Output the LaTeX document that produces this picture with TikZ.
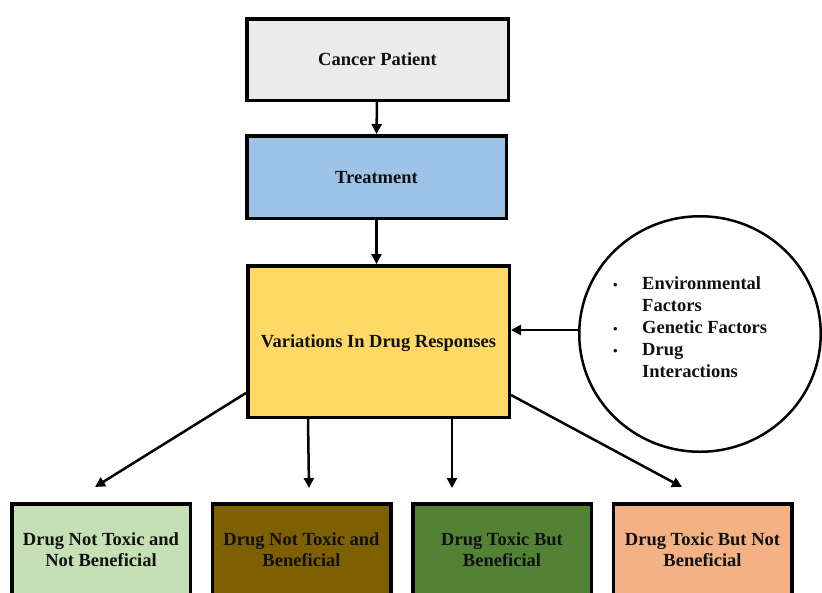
\documentclass[tikz,border=0pt]{standalone}
\usepackage{fontspec}
\setmainfont{Liberation Serif}
\usetikzlibrary{arrows.meta,shapes.geometric}
\definecolor{patientgray}{HTML}{EBEBEB}
\definecolor{treatblue}{HTML}{9DC3E6}
\definecolor{varyellow}{HTML}{FFD966}
\definecolor{lightgreen}{HTML}{C5E0B4}
\definecolor{darkbrown}{HTML}{7F6000}
\definecolor{midgreen}{HTML}{548235}
\definecolor{peach}{HTML}{F4B183}
\definecolor{inkblack}{HTML}{111111}
\begin{document}
\begin{tikzpicture}[x=1pt,y=-1pt,
  lbl/.style={font=\fontsize{18.5}{21}\selectfont\bfseries, text=inkblack, align=center},
  flowbox/.style={lbl, draw=black, rectangle, line width=3.5pt, inner sep=0pt},
  mainbox/.style={flowbox, text height=16.5pt, text depth=4pt},
  outcome/.style={flowbox, minimum width=178.5pt, minimum height=92.5pt},
  arr/.style={draw=black, line width=2.5pt, -{Triangle[width=10pt,length=10pt]}},
  dot/.style={}]
\clip (0,0) rectangle (822,592);
\fill[white] (0,0) rectangle (822,592);

% main column
\node[mainbox, fill=patientgray, minimum width=261.5pt, minimum height=81.5pt]
  (patient) at (377.5,59.5) {Cancer Patient};
\node[mainbox, fill=treatblue, minimum width=259.5pt, minimum height=82.5pt]
  (treat) at (376.5,177) {Treatment};
\node[mainbox, fill=varyellow, minimum width=261.5pt, minimum height=151.5pt]
  (var) at (378.5,341.5) {Variations In Drug Responses};

% factors circle
\node[draw=black, line width=2.5pt, ellipse, fill=white, inner sep=0pt,
  minimum width=241.5pt, minimum height=235.5pt] (factors) at (700,334) {};
\newcommand{\bul}{\makebox[30pt][l]{\hspace{1pt}\fontsize{13}{13}\selectfont\textbullet}}
\node[lbl, align=left, anchor=west, inner sep=0pt, font=\fontsize{18.5}{22}\selectfont\bfseries]
  (factlist) at (612,327.5)
  {\bul Environmental\\
   \makebox[30pt][l]{}Factors\\
   \bul Genetic Factors\\
   \bul Drug\\
   \makebox[30pt][l]{}Interactions};

% outcome boxes
\node[outcome, fill=lightgreen] (out1) at (101,550) {Drug Not Toxic and\\Not Beneficial};
\node[outcome, fill=darkbrown]  (out2) at (301.5,550) {Drug Not Toxic and\\Beneficial};
\node[outcome, fill=midgreen]   (out3) at (502,550) {Drug Toxic But\\Beneficial};
\node[outcome, fill=peach]      (out4) at (702.5,550) {Drug Toxic But Not\\Beneficial};

% arrow tips above the outcome boxes
\coordinate (tip1) at (95,487);
\coordinate (tip2) at (309,488);
\coordinate (tip3) at (452,488);
\coordinate (tip4) at (682,487);

% connectors
\draw[arr] ([xshift=-0.5pt]patient.south) -- (treat.north);
\draw[arr] (treat.south) -- ([xshift=-2pt]var.north);
\draw[arr] ([yshift=4pt]factors.west) -- ([yshift=4pt]factors.west -| var.east);
\draw[arr] ([yshift=26pt]var.south west) -- (tip1);
\draw[arr] ([xshift=-70.5pt]var.south) -- (tip2);
\draw[arr] ([xshift=73.5pt]var.south) -- (tip3);
\draw[arr] ([yshift=24pt]var.south east) -- (tip4);
\end{tikzpicture}
\end{document}
